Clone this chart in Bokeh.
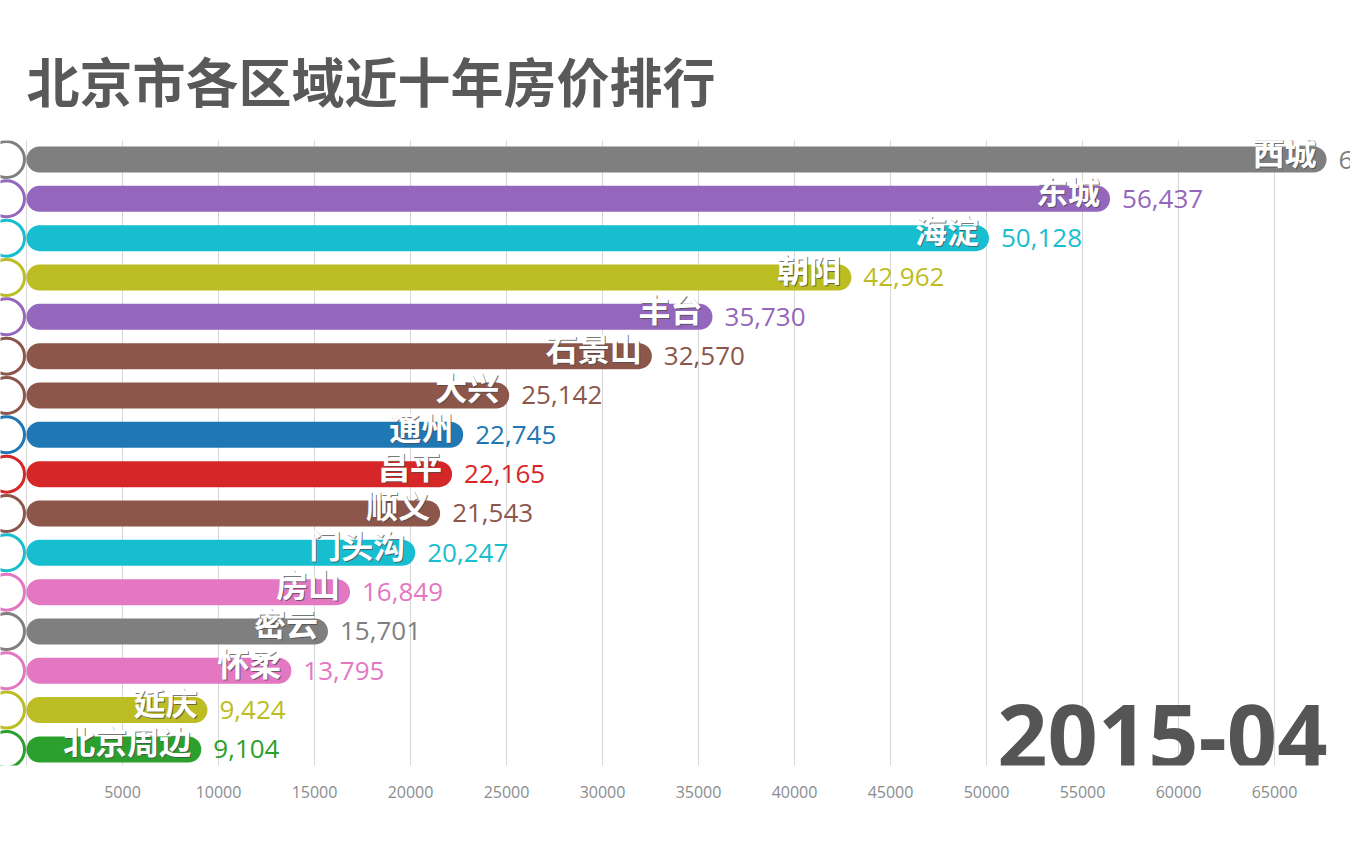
from bokeh.plotting import figure
from bokeh.models import Range1d, FixedTicker, Label, ColumnDataSource
from bokeh.core.properties import value
from bokeh.embed import file_html
from bokeh.resources import INLINE

# ---- data ----
regions = ["西城", "东城", "海淀", "朝阳", "丰台", "石景山", "大兴", "通州",
           "昌平", "顺义", "门头沟", "房山", "密云", "怀柔", "延庆", "北京周边"]
prices = [67712, 56437, 50128, 42962, 35730, 32570, 25142, 22745,
          22165, 21543, 20247, 16849, 15701, 13795, 9424, 9104]
colors = ["#7f7f7f", "#9467bd", "#17becf", "#bcbd22", "#9467bd", "#8c564b",
          "#8c564b", "#1f77b4", "#d62728", "#8c564b", "#17becf", "#e377c2",
          "#7f7f7f", "#e377c2", "#bcbd22", "#2ca02c"]
tick_values = [5000, 10000, 15000, 20000, 25000, 30000, 35000,
               40000, 45000, 50000, 55000, 60000, 65000]
period = "2015-04"
title = "北京市各区域近十年房价排行"

# ---- layout constants ----
W, H = 1350, 844
PX0 = 26.0                      # canvas x of value 0
PX_PER = 1248.0 / 65000.0       # pixels per unit
ROW = 39.33                     # pixels per row
TOP_BORDER = 140
BOTTOM_BORDER = 79
FIRST_ROW_Y = 159 - TOP_BORDER
frame_h = H - TOP_BORDER - BOTTOM_BORDER

x_start = -PX0 / PX_PER
x_end = (W - PX0) / PX_PER
y_top = -FIRST_ROW_Y / ROW
y_bottom = (frame_h - FIRST_ROW_Y) / ROW

src = ColumnDataSource(dict(
    rank=list(range(len(regions))),
    region=regions,
    price=prices,
    color=colors,
    label=[f"{v:,}" for v in prices],
))

p = figure(width=W, height=H, output_backend="svg", toolbar_location=None,
           x_range=Range1d(x_start, x_end), y_range=Range1d(y_bottom, y_top),
           y_axis_location=None, x_axis_location="below",
           min_border_left=0, min_border_right=0,
           min_border_top=TOP_BORDER, min_border_bottom=BOTTOM_BORDER,
           outline_line_color=None, background_fill_color="white",
           border_fill_color="white")

p.title.text = title
p.title.text_font = "Noto Sans CJK SC"
p.title.text_font_size = "53px"
p.title.text_font_style = "bold"
p.title.text_color = "#595959"
p.title.align = "left"
p.title.offset = 26
p.title.standoff = 46

# grid & axis
p.ygrid.visible = False
p.xgrid.ticker = FixedTicker(ticks=[0] + tick_values)
p.xgrid.grid_line_color = "#d6d6d6"
p.xgrid.grid_line_width = 1
p.xaxis.ticker = FixedTicker(ticks=tick_values)
p.xaxis.axis_line_color = None
p.xaxis.major_tick_line_color = None
p.xaxis.minor_tick_line_color = None
p.xaxis.major_label_text_color = "#8c8c8c"
p.xaxis.major_label_text_font = "Open Sans"
p.xaxis.major_label_text_font_size = "16px"
p.xaxis.major_label_standoff = 14

# bars
p.hbar(y="rank", left=0, right="price", height=26 / ROW, fill_color="color",
       line_color=None, border_radius=13, source=src)

# avatar rings at the left
CIRCLE_X = (6 - PX0) / PX_PER
p.scatter(x=CIRCLE_X, y="rank", size=36, marker="circle", fill_color="white",
          line_color="color", line_width=3, source=src)

# region names inside bars (soft dark edge, then white text)
LABEL_STYLE = dict(text_align="right", text_baseline="middle",
                   text_font=value("Noto Sans CJK SC"), text_font_size="32px",
                   text_font_style="bold", source=src)
p.text(x="price", y="rank", text="region", x_offset=-9, y_offset=-8,
       text_color="#4a4a4a", text_alpha=0.75, **LABEL_STYLE)
p.text(x="price", y="rank", text="region", x_offset=-10, y_offset=-9,
       text_color="white", **LABEL_STYLE)

# values after bars
p.text(x="price", y="rank", text="label", x_offset=12, y_offset=0,
       text_align="left", text_baseline="middle", text_color="color",
       text_font=value("Open Sans"), text_font_size="26px", source=src)

# period label
YEAR_FS = 88
p.add_layout(Label(x=(1327 - PX0) / PX_PER,
                   y=y_bottom - (0.33 * YEAR_FS) / ROW,
                   text=period, text_align="right", text_baseline="alphabetic",
                   text_font="Open Sans", text_font_size=f"{YEAR_FS}px",
                   text_font_style="bold", text_color="#555555"))

open("out.html", "w").write(file_html(p, INLINE))
